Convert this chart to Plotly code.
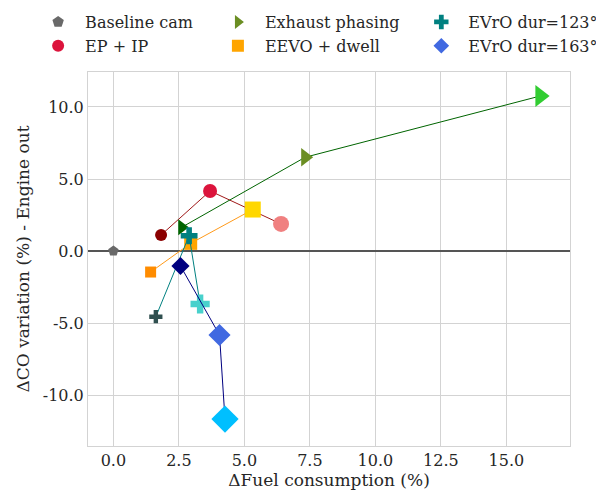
import plotly.graph_objects as go

# Data (ΔFuel consumption %, ΔCO variation %)
baseline_x = [0.0]
baseline_y = [0.0]

epip_x = [1.82, 3.69, 6.40]
epip_y = [1.11, 4.17, 1.88]

exh_x = [2.61, 7.32, 16.29]
exh_y = [1.65, 6.51, 10.76]

eevo_x = [1.42, 2.95, 5.32]
eevo_y = [-1.46, 0.53, 2.88]

evro123_x = [1.62, 2.89, 3.31]
evro123_y = [-4.56, 1.06, -3.68]

evro163_x = [2.56, 4.05, 4.26]
evro163_y = [-1.04, -5.83, -11.67]

x_ticks = [0.0, 2.5, 5.0, 7.5, 10.0, 12.5, 15.0]
y_ticks = [-10.0, -5.0, 0.0, 5.0, 10.0]

FONT = "DejaVu Serif"
TXT = "#262626"

fig = go.Figure()

groups = [
    # name, x, y, line color, marker colors, symbol, sizes, legend color, legend id
    ("Baseline cam", baseline_x, baseline_y, None, ["#696969"], "pentagon", [11], "#696969", "legend"),
    ("EP + IP", epip_x, epip_y, "#a01818", ["#8b0000", "#dc143c", "#f08080"], "circle", [12, 14, 16], "#dc143c", "legend"),
    ("Exhaust phasing", exh_x, exh_y, "#006400", ["#006400", "#6b8e23", "#32cd32"], "triangle-right", [14, 16, 19], "#6b8e23", "legend2"),
    ("EEVO + dwell", eevo_x, eevo_y, "#ff9a1a", ["#ff8c00", "#ffa500", "#ffd700"], "square", [11, 13, 16], "#ffa500", "legend2"),
    ("EVrO dur=123°", evro123_x, evro123_y, "#008080", ["#2f4f4f", "#008080", "#48d1cc"], "cross", [11, 14, 16], "#008080", "legend3"),
    ("EVrO dur=163°", evro163_x, evro163_y, "#000080", ["#000080", "#4169e1", "#00bfff"], "diamond", [14, 17, 21], "#4169e1", "legend3"),
]

for name, xs, ys, lc, mcs, sym, sizes, legc, leg in groups:
    if lc is not None:
        fig.add_trace(go.Scatter(x=xs, y=ys, mode="lines", line=dict(color=lc, width=1),
                                 showlegend=False, hoverinfo="skip"))
    fig.add_trace(go.Scatter(x=xs, y=ys, mode="markers", showlegend=False,
                             marker=dict(color=mcs, size=sizes, symbol=sym, opacity=1,
                                         line=dict(width=0))))
    fig.add_trace(go.Scatter(x=[None], y=[None], mode="markers", name=name, legend=leg,
                             marker=dict(color=legc, size=11, symbol=sym, opacity=1,
                                         line=dict(width=0))))

legend_common = dict(orientation="v", yanchor="top", xanchor="left", y=1.179,
                     font=dict(family=FONT, size=16, color=TXT), bgcolor="rgba(0,0,0,0)",
                     itemsizing="constant", tracegroupgap=0, itemwidth=44)

fig.update_layout(
    width=596, height=482,
    margin=dict(l=80, r=34, t=64, b=44, autoexpand=False),
    paper_bgcolor="white", plot_bgcolor="white",
    font=dict(family=FONT, size=16, color=TXT),
    legend=dict(legend_common, x=-0.118),
    legend2=dict(legend_common, x=0.255),
    legend3=dict(legend_common, x=0.677),
    xaxis=dict(range=[-0.97, 17.43], tickvals=x_ticks, ticktext=[f"{v:.1f}" for v in x_ticks],
               showgrid=True, gridcolor="#d3d3d3", gridwidth=1, zeroline=False,
               showline=True, linecolor="#d3d3d3", mirror=True, ticks="",
               title=dict(text="ΔFuel consumption (%)", font=dict(size=17), standoff=4),
               tickfont=dict(size=16)),
    yaxis=dict(range=[-13.54, 12.43], tickvals=y_ticks, ticktext=[f"{v:.1f}" for v in y_ticks],
               showgrid=True, gridcolor="#d3d3d3", gridwidth=1, zeroline=True,
               zerolinecolor="#555555", zerolinewidth=2,
               showline=True, linecolor="#d3d3d3", mirror=True, ticks="",
               title=dict(text="ΔCO variation (%) - Engine out", font=dict(size=17), standoff=8),
               tickfont=dict(size=16)),
)

fig.write_html("out.html")
